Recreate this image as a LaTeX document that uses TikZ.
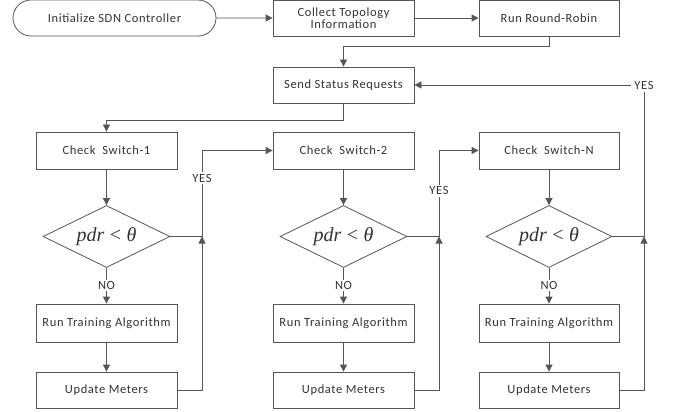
\documentclass[tikz,border=0pt]{standalone}
\usepackage{fontspec}
\setmainfont[LetterSpace=5]{Carlito}
\newfontfamily\tnr{Liberation Serif}
\usetikzlibrary{arrows.meta,shapes.geometric,shapes.misc}
\definecolor{lc}{HTML}{555555}
\definecolor{tc}{HTML}{333333}
\newcommand{\pdrcond}{{\tnr\itshape pdr} {\tnr <} {\tnr\itshape θ}}
\begin{document}
\begin{tikzpicture}[x=1pt,y=-1pt,
  every node/.style={text=tc,font=\fontsize{12.5}{12.5}\selectfont},
  box/.style={draw=lc,line width=0.8pt,rectangle,minimum width=141pt,minimum height=36pt,inner sep=1pt,align=center},
  term/.style={draw=lc,line width=0.8pt,rounded rectangle,minimum width=205pt,minimum height=36pt,inner sep=1pt},
  dec/.style={draw=lc,line width=0.8pt,diamond,minimum width=127pt,minimum height=62pt,inner sep=0pt,aspect=2},
  conn/.style={draw=lc,line width=0.8pt},
  arr/.style={conn,-{Triangle[length=7pt,width=7pt]}},
  lbl/.style={fill=white,inner sep=1.5pt},
  math/.style={font=\fontsize{20}{20}\selectfont}]
\useasboundingbox (0,0) rectangle (673,412);
% top row
\node[term] (init) at (114.5,18) {Initialize SDN Controller};
\node[box] (collect) at (343.5,18) {Collect Topology\\[-1pt]Information};
\node[box,minimum width=140pt] (rr) at (549,18) {Run Round-Robin};
\node[box] (send) at (343.5,85) {Send Status Requests};
% columns
\node[box,minimum height=37pt] (cs1) at (106.5,150.5) {Check\ \ Switch-1};
\node[box,minimum height=37pt] (cs2) at (343.5,150.5) {Check\ \ Switch-2};
\node[box,minimum height=37pt,minimum width=140pt] (csN) at (549,150.5) {Check\ \ Switch-N};
\node[dec,math] (d1) at (106.5,236.5) {\pdrcond};
\node[dec,math] (d2) at (343.5,236.5) {\pdrcond};
\node[dec,math,minimum width=126pt] (dN) at (549,236.5) {\pdrcond};
\node[box,minimum height=38pt] (rt1) at (106.5,323) {Run Training Algorithm};
\node[box,minimum height=38pt] (rt2) at (343.5,323) {Run Training Algorithm};
\node[box,minimum height=38pt,minimum width=140pt] (rtN) at (549,323) {Run Training Algorithm};
\node[box] (um1) at (106.5,390) {Update Meters};
\node[box] (um2) at (343.5,390) {Update Meters};
\node[box,minimum width=140pt] (umN) at (549,390) {Update Meters};
% junction coordinates
\coordinate (j1) at (202,236.5);
\coordinate (j2) at (439,236.5);
\coordinate (j3) at (644,236.5);
\coordinate (top) at (644,85);
% top connectors
\draw[arr] (init) -- (collect);
\draw[arr] (collect) -- (rr);
\draw[arr] (rr.south) -- ++(0,10.5) -| (send.north);
\draw[arr] (send.south) -- ++(0,17) -| (cs1.north);
% column connectors
\foreach \c/\d/\r/\u/\j in {cs1/d1/rt1/um1/j1,cs2/d2/rt2/um2/j2,csN/dN/rtN/umN/j3}{
  \draw[arr] (\c.south) -- (\d.north);
  \draw[arr] (\d.south) -- node[lbl]{NO} (\r.north);
  \draw[arr] (\r.south) -- (\u.north);
  \draw[arr] (\u.east) -| (\j);
  \draw[conn] (\d.east) -- (\j);
}
\draw[arr] (j1) |- node[lbl,pos=0.34]{YES} (cs2.west);
\draw[arr] (j2) |- node[lbl,pos=0.265]{YES} (csN.west);
\draw[arr] (j3) -- (top) -- (send.east);
\node[lbl,inner sep=3pt] (yes3) at (top) {YES};
\end{tikzpicture}
\end{document}
